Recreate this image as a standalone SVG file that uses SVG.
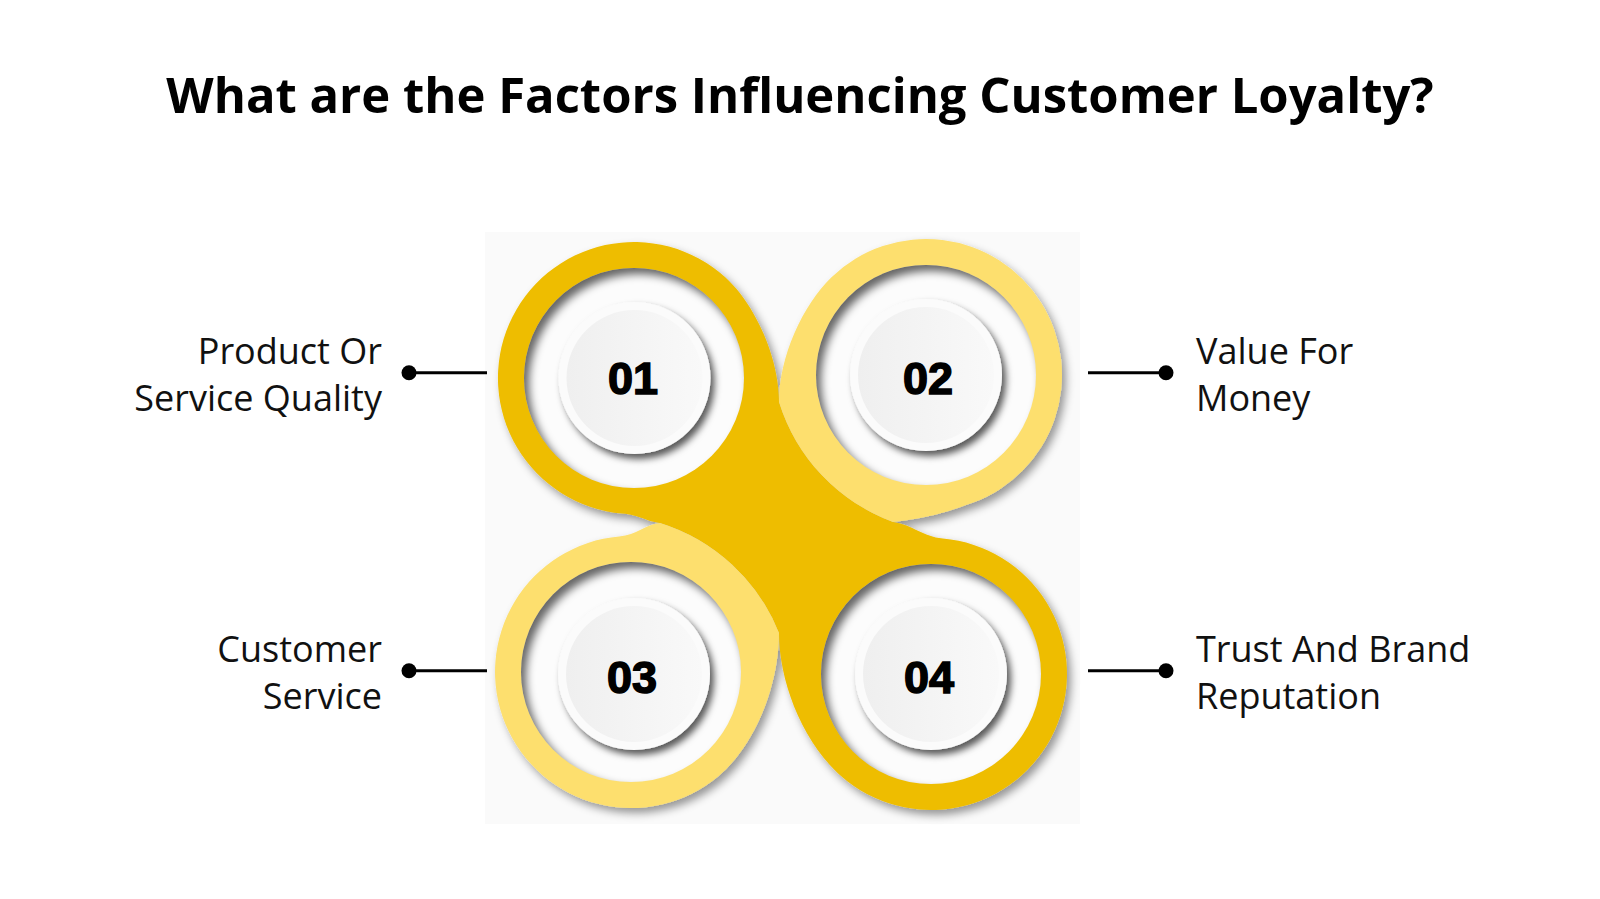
<svg xmlns="http://www.w3.org/2000/svg" width="1600" height="899" viewBox="0 0 1600 899">
<style>
.title{font-family:"Open Sans","Noto Sans","Liberation Sans",sans-serif;font-weight:bold;font-size:49px;fill:#000;text-anchor:middle}
.lbl{font-family:"Open Sans","Noto Sans","Liberation Sans",sans-serif;font-size:36px;fill:#111}
.lbl.l{text-anchor:end}
.num{font-family:"Liberation Sans",Arial,sans-serif;font-weight:bold;font-size:45px;fill:#000;stroke:#000;stroke-width:1.5;text-anchor:middle}
.dark{fill:#EEBD00}
.light{fill:#FDDF6E}
.hole{fill:#FCFCFC}
.ish{fill:none;stroke:#000;stroke-opacity:0.6;stroke-width:20}
.rim{fill:#FBFBFB}
.disc{fill:url(#dg)}
#connectors line{stroke:#000;stroke-width:3}
#connectors circle{fill:#000}
</style>
<defs>
<filter id="sh" x="-10%" y="-10%" width="125%" height="125%"><feDropShadow dx="4" dy="5" stdDeviation="4" flood-color="#000" flood-opacity="0.4"/></filter>
<filter id="dsh" x="-20%" y="-20%" width="150%" height="150%"><feDropShadow dx="4" dy="5" stdDeviation="3.5" flood-color="#000" flood-opacity="0.65"/></filter>
<filter id="bl" x="-20%" y="-20%" width="140%" height="140%"><feGaussianBlur stdDeviation="4"/></filter>
<linearGradient id="dg" x1="0" y1="0" x2="1" y2="0"><stop offset="0" stop-color="#EFEFEF"/><stop offset="1" stop-color="#F9F9F9"/></linearGradient>
<clipPath id="h1"><circle cx="634" cy="378" r="110"/></clipPath>
<clipPath id="h2"><circle cx="926" cy="375" r="110"/></clipPath>
<clipPath id="h3"><circle cx="631" cy="672" r="110"/></clipPath>
<clipPath id="h4"><circle cx="931" cy="674" r="110"/></clipPath>
</defs>
<rect width="1600" height="899" fill="#FFFFFF"/>
<text class="title" x="800" y="113">What are the Factors Influencing Customer Loyalty?</text>
<rect x="485" y="232" width="595" height="592" fill="#FAFAFA"/>
<g id="shape" filter="url(#sh)">
<path class="dark" d="M779,402 C779,357 754.7,303.8 725,277 A136,136 0 1 0 622.1,513.5 C640,515.1 645,521 660,523 A188.5,188.5 0 0 1 779,633 C779,683 804,747.3 847.3,781.2 A136,136 0 1 0 942.9,538.5 C923,536.8 913,525 893,522 A186.3,186.3 0 0 1 779,402 Z"/>
<path class="light" d="M779,402 C779,357 802.7,305 831.5,277.2 A136,136 0 1 1 972.5,502.8 C944.3,513.1 928,518 893,522 A186.3,186.3 0 0 1 779,402 Z"/>
<path class="light" d="M660,523 C645,524.5 637,535 619.1,536.5 A136,136 0 1 0 718.4,776.2 C756.7,744 779,683 779,633 A188.5,188.5 0 0 0 660,523 Z"/>
</g>
<g id="node-01">
<circle class="hole" cx="634" cy="378" r="110"/>
<g clip-path="url(#h1)"><circle class="ish" cx="639" cy="384" r="120" filter="url(#bl)"/></g>
<circle class="rim" cx="634.5" cy="378" r="76" filter="url(#dsh)"/>
<circle class="disc" cx="634.5" cy="378" r="68"/>
<text class="num" x="633" y="394">01</text>
<text class="lbl l" x="382" y="364">Product Or</text>
<text class="lbl l" x="382" y="411">Service Quality</text>
</g>
<g id="node-02">
<circle class="hole" cx="926" cy="375" r="110"/>
<g clip-path="url(#h2)"><circle class="ish" cx="931" cy="381" r="120" filter="url(#bl)"/></g>
<circle class="rim" cx="926" cy="375" r="76" filter="url(#dsh)"/>
<circle class="disc" cx="926" cy="375" r="68"/>
<text class="num" x="928" y="394">02</text>
<text class="lbl" x="1196" y="364">Value For</text>
<text class="lbl" x="1196" y="411">Money</text>
</g>
<g id="node-03">
<circle class="hole" cx="631" cy="672" r="110"/>
<g clip-path="url(#h3)"><circle class="ish" cx="636" cy="678" r="120" filter="url(#bl)"/></g>
<circle class="rim" cx="634" cy="674" r="76" filter="url(#dsh)"/>
<circle class="disc" cx="634" cy="674" r="68"/>
<text class="num" x="632" y="693">03</text>
<text class="lbl l" x="382" y="662">Customer</text>
<text class="lbl l" x="382" y="709">Service</text>
</g>
<g id="node-04">
<circle class="hole" cx="931" cy="674" r="110"/>
<g clip-path="url(#h4)"><circle class="ish" cx="936" cy="680" r="120" filter="url(#bl)"/></g>
<circle class="rim" cx="931" cy="674" r="76" filter="url(#dsh)"/>
<circle class="disc" cx="931" cy="674" r="68"/>
<text class="num" x="929" y="693">04</text>
<text class="lbl" x="1196" y="662">Trust And Brand</text>
<text class="lbl" x="1196" y="709">Reputation</text>
</g>
<g id="connectors">
<line x1="409" y1="372.7" x2="487" y2="372.7"/>
<circle cx="409" cy="372.7" r="7.5"/>
<line x1="1088" y1="372.7" x2="1166" y2="372.7"/>
<circle cx="1166" cy="372.7" r="7.5"/>
<line x1="409" y1="670.7" x2="487" y2="670.7"/>
<circle cx="409" cy="670.7" r="7.5"/>
<line x1="1088" y1="670.7" x2="1166" y2="670.7"/>
<circle cx="1166" cy="670.7" r="7.5"/>
</g>
</svg>
